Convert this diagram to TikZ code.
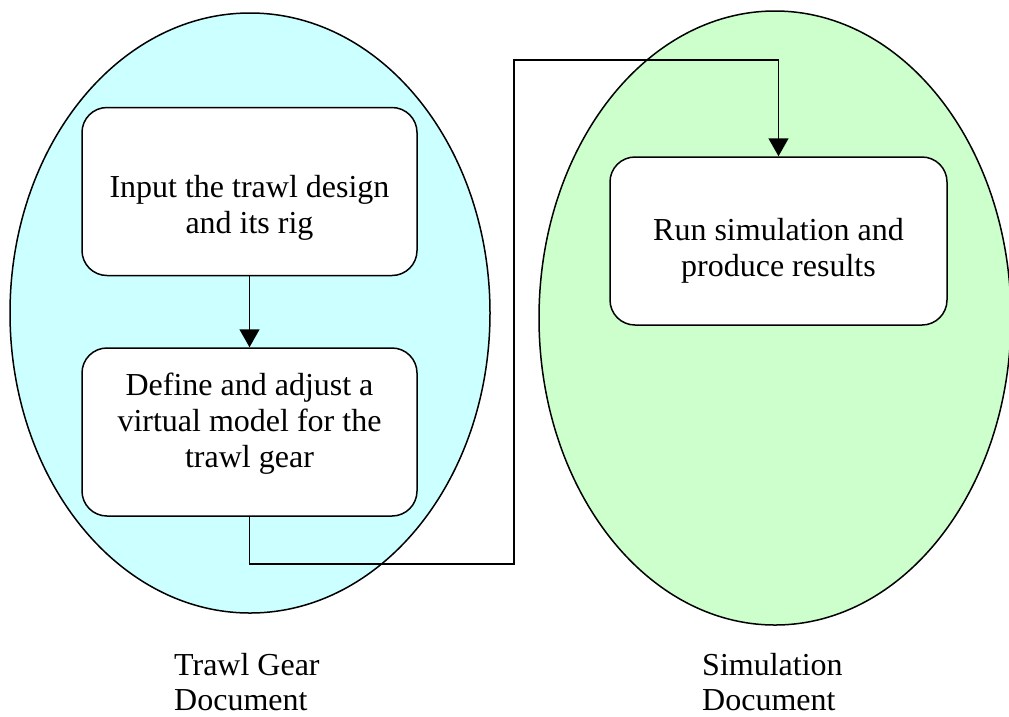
\documentclass[tikz,border=0pt]{standalone}
\usepackage{fontspec}
\setmainfont{Liberation Serif}
\usetikzlibrary{arrows.meta}
\definecolor{trawlcyan}{HTML}{CCFFFF}
\definecolor{simgreen}{HTML}{CCFFCC}
\tikzset{
  stage/.style={draw, fill=white, rounded corners=25pt, minimum width=335pt,
    minimum height=168pt, line width=1.5pt},
  stagetext/.style={align=center, inner sep=0pt, font=\fontsize{32}{36}\selectfont},
  doclabel/.style={align=left, anchor=north west, inner sep=0pt,
    font=\fontsize{32}{35}\selectfont},
  flow/.style={line width=1.5pt, -{Triangle[length=18pt,width=20pt]}},
}
\begin{document}
\begin{tikzpicture}[x=1pt,y=-1pt]
\useasboundingbox (0,0) rectangle (1009,716);
% the two documents
\filldraw[fill=trawlcyan, line width=1.5pt] (250,313) ellipse (240pt and 300pt);
\filldraw[fill=simgreen, line width=1.5pt] (775,318) ellipse (236pt and 307pt);
% steps
\node[stage] (input) at (249.5,191.5) {};
\node[stagetext] (inputtxt) at (249.5,207.5) {Input the trawl design\\and its rig};
\node[stage] (define) at (249.5,432) {};
\node[stagetext] (definetxt) at (249.5,423.5) {Define and adjust a\\virtual model for the\\trawl gear};
\node[stage, minimum width=337pt] (run) at (778.5,241) {};
\node[stagetext] (runtxt) at (778.5,250.5) {Run simulation and\\produce results};
% connectors
\coordinate (low) at (514,564);
\coordinate (high) at (514,60);
\draw[flow] (input) -- (define);
\draw[flow] (define.south) |- (low) -- (high) -| (run.north);
% captions
\node[doclabel] (trawllabel) at (174,653) {Trawl Gear\\Document};
\node[doclabel] (simlabel) at (702,653) {Simulation\\Document};
\end{tikzpicture}
\end{document}
